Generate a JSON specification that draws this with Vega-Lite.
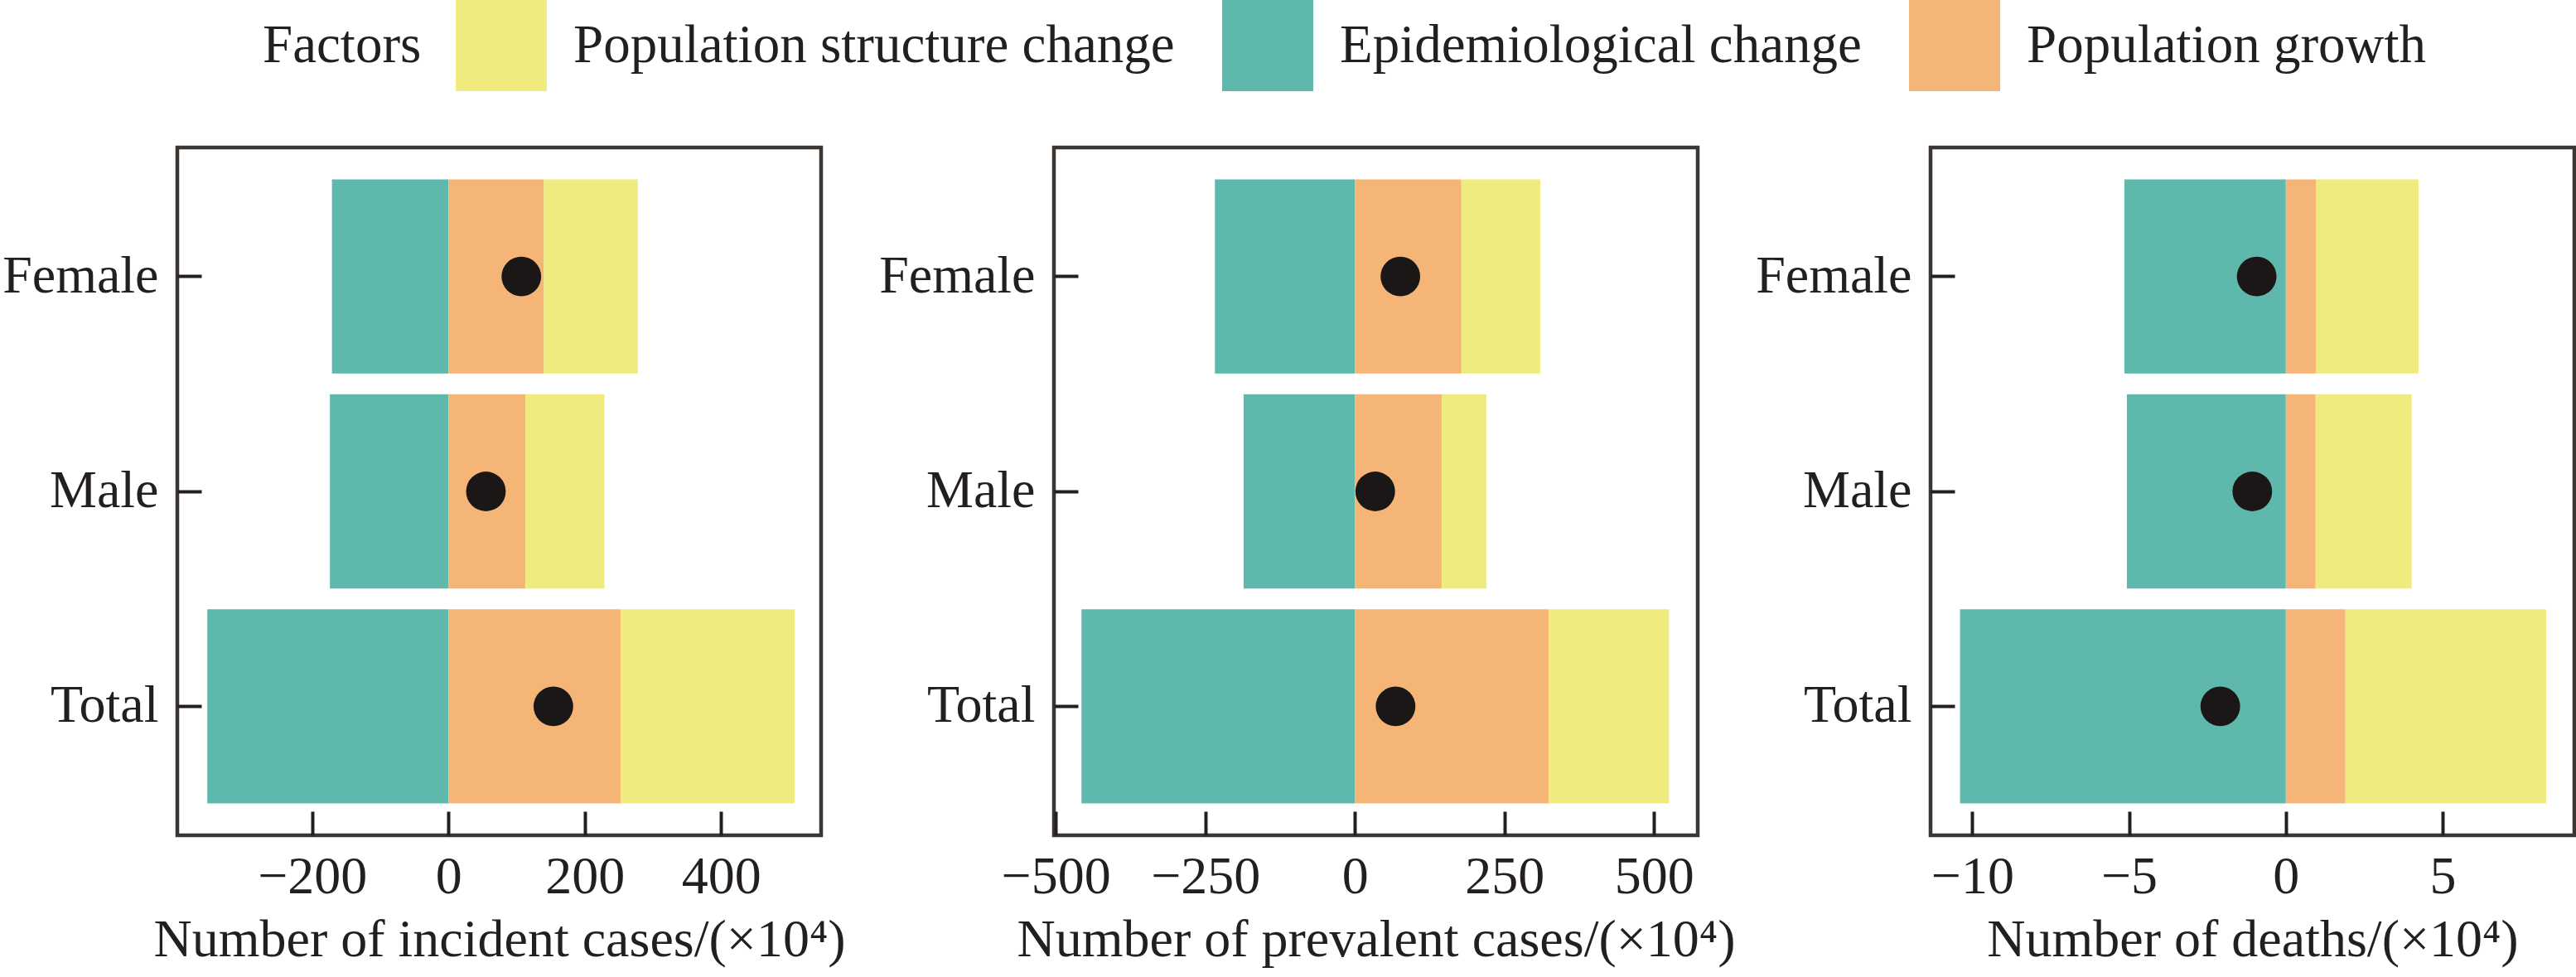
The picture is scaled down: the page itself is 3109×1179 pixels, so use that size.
{
  "$schema": "https://vega.github.io/schema/vega-lite/v6.json",
  "padding": 0,
  "autosize": {"type": "pad"},
  "background": "white",
  "datasets": {
    "factors": [
      {"measure": "incident", "sex": "Female", "factor": "Epidemiological change", "value": -171},
      {"measure": "incident", "sex": "Female", "factor": "Population growth", "value": 140},
      {"measure": "incident", "sex": "Female", "factor": "Population structure change", "value": 138},
      {"measure": "incident", "sex": "Male", "factor": "Epidemiological change", "value": -174},
      {"measure": "incident", "sex": "Male", "factor": "Population growth", "value": 113},
      {"measure": "incident", "sex": "Male", "factor": "Population structure change", "value": 116},
      {"measure": "incident", "sex": "Total", "factor": "Epidemiological change", "value": -354},
      {"measure": "incident", "sex": "Total", "factor": "Population growth", "value": 253},
      {"measure": "incident", "sex": "Total", "factor": "Population structure change", "value": 255},
      {"measure": "prevalent", "sex": "Female", "factor": "Epidemiological change", "value": -234},
      {"measure": "prevalent", "sex": "Female", "factor": "Population growth", "value": 178},
      {"measure": "prevalent", "sex": "Female", "factor": "Population structure change", "value": 132},
      {"measure": "prevalent", "sex": "Male", "factor": "Epidemiological change", "value": -186},
      {"measure": "prevalent", "sex": "Male", "factor": "Population growth", "value": 145},
      {"measure": "prevalent", "sex": "Male", "factor": "Population structure change", "value": 75},
      {"measure": "prevalent", "sex": "Total", "factor": "Epidemiological change", "value": -457},
      {"measure": "prevalent", "sex": "Total", "factor": "Population growth", "value": 324},
      {"measure": "prevalent", "sex": "Total", "factor": "Population structure change", "value": 201},
      {"measure": "deaths", "sex": "Female", "factor": "Epidemiological change", "value": -5.15},
      {"measure": "deaths", "sex": "Female", "factor": "Population growth", "value": 0.97},
      {"measure": "deaths", "sex": "Female", "factor": "Population structure change", "value": 3.26},
      {"measure": "deaths", "sex": "Male", "factor": "Epidemiological change", "value": -5.07},
      {"measure": "deaths", "sex": "Male", "factor": "Population growth", "value": 0.95},
      {"measure": "deaths", "sex": "Male", "factor": "Population structure change", "value": 3.06},
      {"measure": "deaths", "sex": "Total", "factor": "Epidemiological change", "value": -10.39},
      {"measure": "deaths", "sex": "Total", "factor": "Population growth", "value": 1.9},
      {"measure": "deaths", "sex": "Total", "factor": "Population structure change", "value": 6.4}
    ],
    "net": [
      {"measure": "incident", "sex": "Female", "value": 107},
      {"measure": "incident", "sex": "Male", "value": 55},
      {"measure": "incident", "sex": "Total", "value": 154},
      {"measure": "prevalent", "sex": "Female", "value": 76},
      {"measure": "prevalent", "sex": "Male", "value": 34},
      {"measure": "prevalent", "sex": "Total", "value": 68},
      {"measure": "deaths", "sex": "Female", "value": -0.93},
      {"measure": "deaths", "sex": "Male", "value": -1.07},
      {"measure": "deaths", "sex": "Total", "value": -2.09}
    ]
  },
  "config": {
    "font": "Liberation Serif",
    "view": {"stroke": "#3b3632", "strokeWidth": 4.5},
    "axis": {
      "domain": false,
      "grid": false,
      "tickColor": "#231f20",
      "tickWidth": 4,
      "tickSize": -29,
      "labelFont": "Liberation Serif",
      "labelFontSize": 64,
      "labelColor": "#231f20",
      "labelLimit": 0,
      "titleFont": "Liberation Serif",
      "titleFontSize": 64,
      "titleFontWeight": "normal",
      "titleColor": "#231f20",
      "titleLimit": 0
    },
    "axisY": {"labelPadding": 52, "title": null},
    "axisX": {"labelPadding": 47, "titlePadding": 12, "labelFlush": false}
  },
  "spacing": 281,
  "bounds": "flush",
  "resolve": {"scale": {"x": "independent", "color": "shared"}, "legend": {"color": "shared"}},
  "hconcat": [
    {
      "width": 777,
      "height": 830,
      "layer": [
        {
          "data": {"name": "factors"},
          "transform": [{"filter": "datum.measure === 'incident'"}],
          "mark": {"type": "bar", "strokeWidth": 0},
          "encoding": {
            "y": {"field": "sex", "type": "nominal", "sort": ["Female", "Male", "Total"], "scale": {"paddingInner": 0.096, "paddingOuter": 0.148}},
            "x": {"field": "value", "type": "quantitative", "stack": "zero", "scale": {"domain": [-398, 547], "nice": false, "zero": false}, "axis": {"values": [-200, 0, 200, 400], "title": "Number of incident cases/(×10⁴)"}},
            "color": {
              "field": "factor",
              "type": "nominal",
              "scale": {"domain": ["Population structure change", "Epidemiological change", "Population growth"], "range": ["#f0eb7e", "#5eb8ac", "#f5b577"]},
              "legend": {
                "title": "Factors",
                "orient": "none",
                "legendX": 103,
                "legendY": -178,
                "direction": "horizontal",
                "padding": 0,
                "titleOrient": "left",
                "titleFontSize": 65,
                "titleFontWeight": "normal",
                "titleColor": "#231f20",
                "titlePadding": 41,
                "titleBaseline": "middle",
                "titleLimit": 0,
                "labelFontSize": 65,
                "labelColor": "#231f20",
                "labelOffset": 32,
                "labelLimit": 0,
                "columnPadding": 57,
                "symbolType": "square",
                "symbolSize": 12100,
                "symbolStrokeWidth": 0,
                "symbolOpacity": 1
              }
            },
            "order": {"field": "factor", "sort": "ascending"}
          }
        },
        {
          "data": {"name": "net"},
          "transform": [{"filter": "datum.measure === 'incident'"}],
          "mark": {"type": "circle", "size": 2290, "color": "#1a1716", "opacity": 1},
          "encoding": {
            "y": {"field": "sex", "type": "nominal", "sort": ["Female", "Male", "Total"]},
            "x": {"field": "value", "type": "quantitative", "scale": {"domain": [-398, 547], "nice": false, "zero": false}, "axis": {"values": [-200, 0, 200, 400], "title": "Number of incident cases/(×10⁴)"}}
          }
        }
      ]
    },
    {
      "width": 777,
      "height": 830,
      "layer": [
        {
          "data": {"name": "factors"},
          "transform": [{"filter": "datum.measure === 'prevalent'"}],
          "mark": {"type": "bar", "strokeWidth": 0},
          "encoding": {
            "y": {"field": "sex", "type": "nominal", "sort": ["Female", "Male", "Total"], "scale": {"paddingInner": 0.096, "paddingOuter": 0.148}},
            "x": {"field": "value", "type": "quantitative", "stack": "zero", "scale": {"domain": [-503, 573], "nice": false, "zero": false}, "axis": {"values": [-500, -250, 0, 250, 500], "title": "Number of prevalent cases/(×10⁴)"}},
            "color": {"field": "factor", "type": "nominal"},
            "order": {"field": "factor", "sort": "ascending"}
          }
        },
        {
          "data": {"name": "net"},
          "transform": [{"filter": "datum.measure === 'prevalent'"}],
          "mark": {"type": "circle", "size": 2290, "color": "#1a1716", "opacity": 1},
          "encoding": {
            "y": {"field": "sex", "type": "nominal", "sort": ["Female", "Male", "Total"]},
            "x": {"field": "value", "type": "quantitative", "scale": {"domain": [-503, 573], "nice": false, "zero": false}, "axis": {"values": [-500, -250, 0, 250, 500], "title": "Number of prevalent cases/(×10⁴)"}}
          }
        }
      ]
    },
    {
      "width": 777,
      "height": 830,
      "layer": [
        {
          "data": {"name": "factors"},
          "transform": [{"filter": "datum.measure === 'deaths'"}],
          "mark": {"type": "bar", "strokeWidth": 0},
          "encoding": {
            "y": {"field": "sex", "type": "nominal", "sort": ["Female", "Male", "Total"], "scale": {"paddingInner": 0.096, "paddingOuter": 0.148}},
            "x": {"field": "value", "type": "quantitative", "stack": "zero", "scale": {"domain": [-11.33, 9.2], "nice": false, "zero": false}, "axis": {"values": [-10, -5, 0, 5], "title": "Number of deaths/(×10⁴)"}},
            "color": {"field": "factor", "type": "nominal"},
            "order": {"field": "factor", "sort": "ascending"}
          }
        },
        {
          "data": {"name": "net"},
          "transform": [{"filter": "datum.measure === 'deaths'"}],
          "mark": {"type": "circle", "size": 2290, "color": "#1a1716", "opacity": 1},
          "encoding": {
            "y": {"field": "sex", "type": "nominal", "sort": ["Female", "Male", "Total"]},
            "x": {"field": "value", "type": "quantitative", "scale": {"domain": [-11.33, 9.2], "nice": false, "zero": false}, "axis": {"values": [-10, -5, 0, 5], "title": "Number of deaths/(×10⁴)"}}
          }
        }
      ]
    }
  ]
}
